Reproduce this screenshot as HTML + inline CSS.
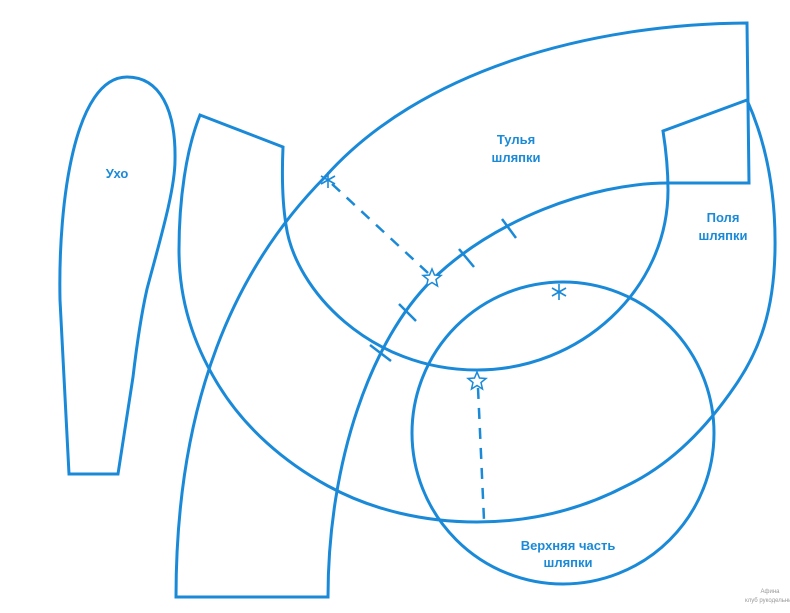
<!DOCTYPE html>
<html><head><meta charset="utf-8"><style>
html,body{margin:0;padding:0;background:#fff;}
svg{display:block}
text{font-family:"Liberation Sans",sans-serif;font-weight:bold;fill:#1a8ad8;font-size:13px;text-anchor:middle}
</style></head><body>
<svg width="790" height="613" viewBox="0 0 790 613" xmlns="http://www.w3.org/2000/svg">
<g fill="none" stroke="#1a8ad8" stroke-width="3">
<path d="M747,23 C590,24 420,70 325,177 C235,268 176,400 176,597 L328,597 C328,460 372,339 432,280 C492,221 590,183 668,183 L749,183 Z"/>
<path d="M747,100 C765,140 776,190 775,250 C774,310 760,350 735,386 C705,430 670,465 626,486 C580,510 530,522 477,522 C424,522 372,510 328,486 C284,462 245,428 219,386 C193,344 179,300 179,250 C179,200 186,150 200,115 L283,147 C282,170 282,200 286,225 C295,290 370,370 477,370 C580,370 668,290 668,190 C668,170 666,150 663,131 Z"/>
<path d="M69,474 L60,300 C58,200 75,77 127,77 C160,77 176,110 175,160 C175,190 160,240 147,289 C140,320 135,360 133,377 L118,474 Z"/>
<circle cx="563" cy="433" r="151"/>
</g>
<g stroke="#1a8ad8" stroke-width="2.5" fill="none">
<line x1="332" y1="184" x2="428" y2="273" stroke-dasharray="11,9"/>
<line x1="478" y1="388" x2="484" y2="520" stroke-dasharray="11,9"/>
<line x1="502" y1="219" x2="516" y2="238"/>
<line x1="459" y1="249" x2="474" y2="267"/>
<line x1="399" y1="304" x2="416" y2="321"/>
<line x1="370" y1="345" x2="391" y2="361"/>
</g>
<g stroke="#1a8ad8" stroke-width="1.6">
<line x1="328" y1="172" x2="328" y2="188"/><line x1="321" y1="176" x2="335" y2="184"/><line x1="321" y1="184" x2="335" y2="176"/>
<line x1="559" y1="284" x2="559" y2="300"/><line x1="552" y1="288" x2="566" y2="296"/><line x1="552" y1="296" x2="566" y2="288"/>
</g>
<g fill="#fff" stroke="#1a8ad8" stroke-width="1.5">
<polygon points="432,269 434.5,275 441,275.5 436,279.5 437.5,286 432,282.5 426.5,286 428,279.5 423,275.5 429.5,275"/>
<polygon points="477,372 479.5,378 486,378.5 481,382.5 482.5,389 477,385.5 471.5,389 473,382.5 468,378.5 474.5,378"/>
</g>
<text x="117" y="178">Ухо</text>
<text x="516" y="144">Тулья</text>
<text x="516" y="162">шляпки</text>
<text x="723" y="222">Поля</text>
<text x="723" y="240">шляпки</text>
<text x="568" y="550">Верхняя часть</text>
<text x="568" y="567">шляпки</text>
<text x="770" y="593" style="font-size:6px;font-weight:normal;fill:#999">Афина</text>
<text x="770" y="602" style="font-size:6px;font-weight:normal;fill:#999">клуб рукодельниц</text>
</svg>
</body></html>
